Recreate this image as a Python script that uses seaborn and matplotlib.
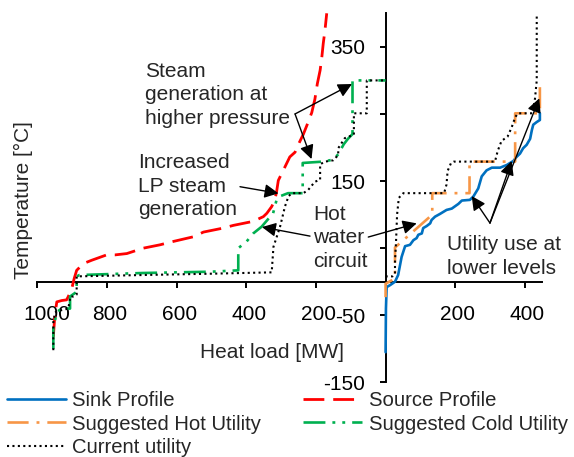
import numpy as np
import pandas as pd
import matplotlib
matplotlib.use("Agg")
import matplotlib.pyplot as plt
from matplotlib.transforms import ScaledTranslation
import seaborn as sns

# --- Heat-load / temperature profiles -------------------------------------
# Sink side (right of the temperature axis), heat load in MW
sink_load = [0, 1, 3, 13, 27, 36, 46, 56, 70, 80, 89, 94, 104, 108, 118, 128, 132, 142, 156, 175,
             190, 209, 219, 242, 252, 266, 276, 290, 305, 329, 348, 367, 376, 386, 395, 405, 415,
             420, 424, 434, 443, 443]
sink_temp = [-105, -40, -8, -5, 0, 10, 37, 53, 55, 62, 65, 70, 72, 80, 83, 87, 92, 97, 101, 107,
             109, 116, 121, 122, 127, 139, 157, 166, 170, 170, 174, 180, 186, 191, 199, 204, 213,
             226, 234, 238, 241, 251]

# Source side (left of the temperature axis), heat load in MW
source_load = [954, 951, 949, 944, 930, 916, 911, 901, 894, 887, 868, 844, 801, 777, 743, 696, 648,
               610, 552, 523, 466, 437, 380, 351, 341, 327, 318, 313, 308, 290, 275, 260, 250, 236,
               226, 212, 203, 196, 188, 183, 179, 174, 169]
source_temp = [-82, -60, -47, -30, -28, -27, -22, -10, 5, 17, 27, 32, 40, 40, 42, 50, 55, 60, 67,
               74, 80, 84, 90, 97, 102, 112, 122, 134, 151, 170, 186, 193, 205, 220, 233, 252, 272,
               295, 315, 335, 355, 375, 400]

# Suggested utilities
hot_util_load = [0, 0, 27, 27, 134, 134, 241, 241, 372, 372, 443, 443]
hot_util_temp = [-23, -3, 5, 51, 100, 132, 132, 179, 179, 251, 251, 301]

cold_util_load = [954, 954, 944, 930, 906, 906, 887, 887, 879, 700, 500, 423, 423, 399, 380, 356,
                  323, 313, 300, 280, 238, 238, 180, 150, 136, 120, 108, 95, 95, 0]
cold_util_temp = [-100, -70, -45, -40, -40, -22, -15, 8, 10, 13, 15, 17, 50, 60, 72, 82, 102, 122,
                  128, 132, 132, 177, 179, 182, 190, 205, 213, 220, 300, 300]

# Current utility use (cooling side and heating side)
current_cold_load = [954, 954, 949, 944, 911, 905, 897, 887, 887, 700, 500, 327, 322, 303, 289, 279,
                     270, 236, 222, 203, 188, 188, 174, 150, 136, 136, 117, 102, 91, 91, 54, 54, 0]
current_cold_temp = [-102, -60, -46, -44, -40, -22, -22, -19, 8, 10, 12, 14, 52, 82, 112, 127, 132,
                     132, 137, 149, 152, 175, 179, 181, 189, 199, 214, 217, 219, 251, 251, 300, 300]
current_hot_load = [0, 20, 27, 27, 30, 33, 38, 51, 168, 175, 178, 188, 196, 314, 322, 333, 350, 362,
                    372, 380, 422, 429, 434, 434]
current_hot_temp = [8, 8, 12, 30, 60, 100, 125, 132, 132, 145, 165, 177, 179, 179, 195, 210, 216,
                    230, 245, 251, 251, 273, 300, 398]

x_ticks = [-1000, -800, -600, -400, -200, 0, 200, 400]
x_tick_labels = ["1000", "800", "600", "400", "200", "", "200", "400"]
y_ticks = [-150, -50, 50, 150, 250, 350]
y_tick_labels = ["-150", "-50", "", "150", "", "350"]

# --- Style -----------------------------------------------------------------
sns.set_style("ticks")
plt.rcParams["font.family"] = ["Liberation Sans", "DejaVu Sans"]
plt.rcParams["font.size"] = 15
FS = 15

fig = plt.figure(figsize=(5.74, 4.57), dpi=100)
ax = fig.add_axes([0.065, 0.1632, 0.8798, 0.8077])


def draw(load, temp, sign, color, lw, ls):
    df = pd.DataFrame({"load": sign * np.asarray(load, dtype=float),
                       "temp": np.asarray(temp, dtype=float)})
    sns.lineplot(data=df, x="load", y="temp", sort=False, estimator=None, color=color,
                 lw=lw, linestyle=ls, ax=ax, legend=False)
    line = ax.lines[-1]
    line.set_solid_joinstyle("round")
    return line


BLUE = "#0070C0"
RED = "#FF0000"
ORANGE = "#F79646"
GREEN = "#00B050"

sink_line = draw(sink_load, sink_temp, 1, BLUE, 1.9, "-")
source_line = draw(source_load, source_temp, -1, RED, 2.0, (0, (7.5, 3.2)))
hot_line = draw(hot_util_load, hot_util_temp, 1, ORANGE, 1.9, (0, (8, 3, 1.1, 3)))
cold_line = draw(cold_util_load, cold_util_temp, -1, GREEN, 1.9,
                 (0, (8.3, 2.65, 1.1, 2.65, 1.1, 2.65)))
cur_line = draw(current_cold_load, current_cold_temp, -1, "black", 1.5, (0, (1, 1.6)))
draw(current_hot_load, current_hot_temp, 1, "black", 1.5, (0, (1, 1.6)))

# --- Axes through the origin ------------------------------------------------
ax.set_xlim(-1000, 450)
ax.set_ylim(-150, 400)
for side in ("top", "right"):
    ax.spines[side].set_visible(False)
ax.spines["left"].set_position(("data", 0))
ax.spines["bottom"].set_position(("data", 0))
for side in ("left", "bottom"):
    ax.spines[side].set_linewidth(1.4)
    ax.spines[side].set_color("black")
    ax.spines[side].set_zorder(1)

ax.set_xticks(x_ticks)
ax.set_xticklabels(x_tick_labels)
ax.set_yticks(y_ticks)
ax.set_yticklabels(y_tick_labels)
ax.tick_params(axis="x", direction="out", length=4.5, width=1.4, pad=12, labelsize=FS,
               colors="black")
ax.tick_params(axis="y", direction="out", length=4.5, width=1.4, pad=10, labelsize=FS,
               colors="black")
ax.grid(False)

for i, tick in enumerate(ax.xaxis.get_major_ticks()):
    dx = 10 if i == 0 else 2.5
    tick.label1.set_transform(tick.label1.get_transform()
                              + ScaledTranslation(dx / 100, 0, fig.dpi_scale_trans))

ax.set_xlabel("Heat load [MW]", fontsize=FS, va="center")
ax.xaxis.set_label_coords(271.5 / 574, 1 - 353 / 457, transform=fig.transFigure)
ax.set_ylabel("Temperature [°C]", fontsize=FS, va="center")
ax.yaxis.set_label_coords(23 / 574, 1 - 200 / 457, transform=fig.transFigure)

# --- Annotations --------------------------------------------------------------
arrow = dict(arrowstyle="-|>,head_length=0.6,head_width=0.3", mutation_scale=14,
             color="black", lw=1.0, shrinkA=0, shrinkB=0)
text_kw = dict(fontsize=FS, ha="left", va="center", linespacing=1.3, zorder=5)

ax.text(-691, 279, "Steam\ngeneration at\nhigher pressure", **text_kw)
for tip in [(-96.5, 294.6), (-212.7, 182.8)]:
    ax.annotate("", xy=tip, xytext=(-260, 250), arrowprops=arrow)

ax.text(-711, 142.6, "Increased\nLP steam\ngeneration", **text_kw)
ax.annotate("", xy=(-307.5, 131.7), xytext=(-418, 141.6), arrowprops=arrow)

ax.text(-207.6, 65.6, "Hot\nwater\ncircuit", **text_kw)
ax.annotate("", xy=(-355, 81.5), xytext=(-217, 68), arrowprops=arrow)
ax.annotate("", xy=(89.3, 87), xytext=(-49.7, 66.6), arrowprops=arrow)

ax.text(175.4, 37.5, "Utility use at\nlower levels", **text_kw)
for tip in [(247.2, 127.7), (362, 180), (441.3, 273.3)]:
    ax.annotate("", xy=tip, xytext=(299.7, 87.5), arrowprops=arrow)

# --- Legend -------------------------------------------------------------------
handles = [sink_line, hot_line, cur_line, source_line, cold_line]
labels = ["Sink Profile", "Suggested Hot Utility", "Current utility",
          "Source Profile", "Suggested Cold Utility"]
fig.legend(handles, labels, loc="upper left", bbox_to_anchor=(6.7 / 574, 1 - 391.5 / 457),
           ncol=2, frameon=False, borderpad=0, borderaxespad=0, handlelength=2.9,
           handletextpad=0.32, columnspacing=2.1, labelspacing=0.2, fontsize=14.6)

fig.savefig("out.png", dpi=100, facecolor="white")
